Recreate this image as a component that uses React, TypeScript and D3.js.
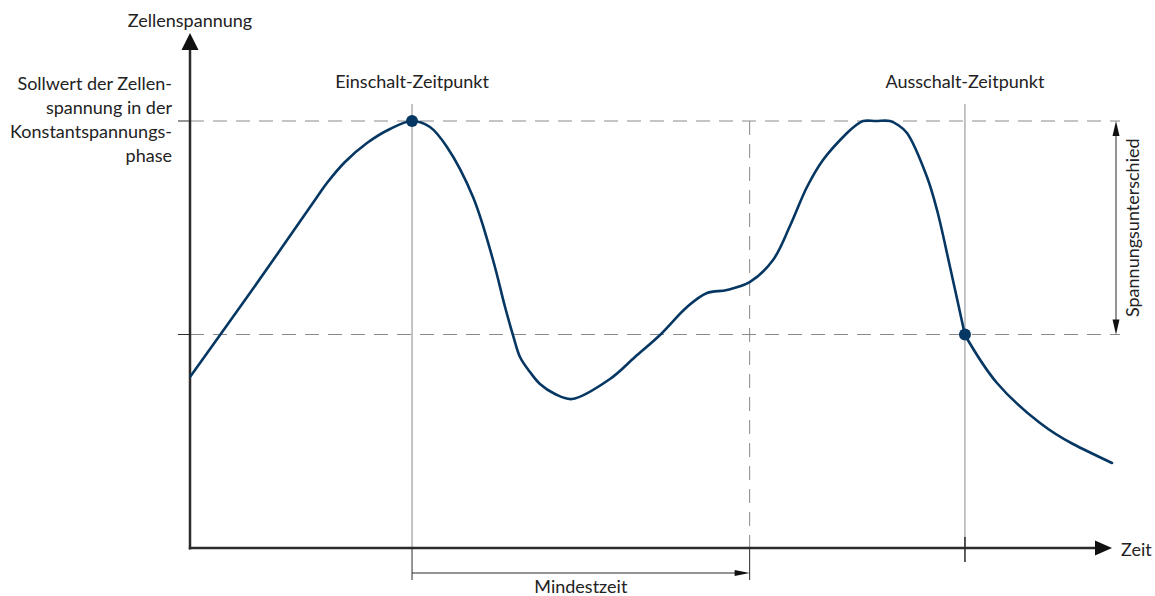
import React from "react";
import * as d3 from "d3";

// Curve samples in abstract units (time 0..100, voltage 0..100; Sollwert = 100)
const timesA = [0, 7.14, 13.96, 15.05, 17.03, 19.45, 21.98, 24.4, 26.37, 28.24, 31.1, 33.3, 34.62, 35.49, 36.26, 37.36, 38.46, 40.11, 41.98, 46.15, 48.9, 51.65, 54.62, 56.81, 59.01, 61.54, 64.07, 65.93, 67.8, 69.56, 72.2, 73.08, 73.96, 75.38, 76.92, 77.8, 78.79, 80.99, 82.09, 83.52, 85.16];
const voltagesA = [40.05, 61.36, 82.2, 85.48, 90.4, 94.85, 98.13, 100, 98.59, 93.91, 82.2, 67.45, 56.44, 49.88, 44.73, 41.22, 38.41, 36.07, 34.89, 39.58, 44.73, 49.88, 56.44, 59.7, 60.42, 62.3, 67.45, 75.4, 84.54, 90.87, 97.19, 98.83, 100, 100, 100, 99.06, 97.19, 86.89, 79.16, 65.81, 49.88];
const timesB = [85.16, 88.68, 93.41, 97.03, 101.32];
const voltagesB = [49.88, 38.64, 29.27, 24.36, 19.91];

const sollwert = 100;
const threshold = 50;
const einschaltT = 24.4;
const mindestEndT = 61.5;
const ausschaltT = 85.16;

const labels = {
  yAxis: "Zellenspannung",
  xAxis: "Zeit",
  sollwert: ["Sollwert der Zellen-", "spannung in der", "Konstantspannungs-", "phase"],
  ein: "Einschalt-Zeitpunkt",
  aus: "Ausschalt-Zeitpunkt",
  mindest: "Mindestzeit",
  diff: "Spannungsunterschied",
};

const W = 1155;
const H = 596;
const FONT = "Lato, 'Noto Sans', sans-serif";
const FS = 18;
const TEXT = "#222";
const CURVE = "#063763";
const GRID = "#8a8a8a";
const AXIS = "#2b2b2b";

export default function App() {
  const x = d3.scaleLinear().domain([0, 100]).range([190, 1100]);
  const y = d3.scaleLinear().domain([0, 100]).range([548, 121]);
  const ptsA: [number, number][] = timesA.map((t, i) => [t, voltagesA[i]]);
  const ptsB: [number, number][] = timesB.map((t, i) => [t, voltagesB[i]]);
  const lineA = d3
    .line<[number, number]>()
    .x((d) => x(d[0]))
    .y((d) => y(d[1]))
    .curve(d3.curveCatmullRom.alpha(0.5));
  const lineB = d3
    .line<[number, number]>()
    .x((d) => x(d[0]))
    .y((d) => y(d[1]))
    .curve(d3.curveNatural);

  const x0 = x(0);
  const y0 = y(0);
  const ySoll = y(sollwert);
  const yThr = y(threshold);
  const xEin = x(einschaltT);
  const xMin = x(mindestEndT);
  const xAus = x(ausschaltT);
  const xEndAxis = 1112;
  const yTopAxis = 33;
  const xBr = 1116;
  const yBr = 573;

  return (
    <svg
      width={W}
      height={H}
      style={{ position: "absolute", left: 0, top: 0, background: "#fff" }}
      fontFamily={FONT}
    >
      {/* dashed reference lines */}
      <line x1={x0} x2={1120} y1={ySoll} y2={ySoll} stroke={GRID} strokeWidth={1} strokeDasharray="14,9" />
      <line x1={x0} x2={1120} y1={yThr} y2={yThr} stroke={GRID} strokeWidth={1} strokeDasharray="14,9" />
      <line x1={xMin} x2={xMin} y1={ySoll} y2={y0} stroke={GRID} strokeWidth={1} strokeDasharray="14,9" />
      {/* solid event lines */}
      <line x1={xEin} x2={xEin} y1={104} y2={y0} stroke={GRID} strokeWidth={1} />
      <line x1={xAus} x2={xAus} y1={104} y2={y0} stroke={GRID} strokeWidth={1} />

      {/* ticks on y axis */}
      <line x1={178} x2={x0} y1={ySoll} y2={ySoll} stroke={AXIS} strokeWidth={1} />
      <line x1={178} x2={x0} y1={yThr} y2={yThr} stroke={AXIS} strokeWidth={1} />

      {/* ticks below x axis */}
      <line x1={xEin} x2={xEin} y1={y0} y2={580} stroke={AXIS} strokeWidth={1} />
      <line x1={xMin} x2={xMin} y1={y0} y2={580} stroke={AXIS} strokeWidth={1} />
      <line x1={xAus} x2={xAus} y1={537} y2={562} stroke={AXIS} strokeWidth={1.5} />

      {/* axes */}
      <line x1={x0} x2={x0} y1={y0 + 1.5} y2={48} stroke={AXIS} strokeWidth={2.5} />
      <line x1={x0 - 1.2} x2={1097} y1={y0} y2={y0} stroke={AXIS} strokeWidth={2.5} />
      <path d={`M${x0},${yTopAxis} L${x0 - 8.5},${50} L${x0 + 8.5},${50} Z`} fill="#111" />
      <path d={`M${xEndAxis},${y0} L${1095},${y0 - 7.5} L${1095},${y0 + 7.5} Z`} fill="#111" />

      {/* Mindestzeit bracket */}
      <line x1={xEin} x2={xMin - 12} y1={yBr} y2={yBr} stroke={AXIS} strokeWidth={1} />
      <path d={`M${xMin},${yBr} L${xMin - 15},${yBr - 3} L${xMin - 15},${yBr + 3} Z`} fill="#111" />
      <text x={(xEin + xMin) / 2} y={593} textAnchor="middle" fontSize={FS} fill={TEXT}>
        {labels.mindest}
      </text>

      {/* Spannungsunterschied bracket */}
      <line x1={xBr} x2={xBr} y1={ySoll + 12} y2={yThr - 12} stroke={AXIS} strokeWidth={1} />
      <path d={`M${xBr},${ySoll} L${xBr - 3.5},${ySoll + 15} L${xBr + 3.5},${ySoll + 15} Z`} fill="#111" />
      <path d={`M${xBr},${yThr} L${xBr - 3.5},${yThr - 15} L${xBr + 3.5},${yThr - 15} Z`} fill="#111" />
      <text
        transform={`translate(1139, ${(ySoll + yThr) / 2}) rotate(-90)`}
        textAnchor="middle"
        fontSize={FS}
        fill={TEXT}
      >
        {labels.diff}
      </text>

      {/* curve */}
      <path d={lineA(ptsA) || ""} fill="none" stroke={CURVE} strokeWidth={2.6} strokeLinejoin="round" />
      <path d={lineB(ptsB) || ""} fill="none" stroke={CURVE} strokeWidth={2.6} strokeLinecap="round" />
      <circle cx={xEin} cy={ySoll} r={6} fill={CURVE} />
      <circle cx={xAus} cy={yThr} r={6} fill={CURVE} />

      {/* labels */}
      <text x={x0} y={27} textAnchor="middle" fontSize={FS} fill={TEXT}>
        {labels.yAxis}
      </text>
      <text x={1121} y={556} fontSize={FS} fill={TEXT}>
        {labels.xAxis}
      </text>
      {labels.sollwert.map((s, i) => (
        <text key={i} x={172} y={90 + i * 24} textAnchor="end" fontSize={FS} fill={TEXT}>
          {s}
        </text>
      ))}
      <text x={xEin} y={88} textAnchor="middle" fontSize={FS} fill={TEXT}>
        {labels.ein}
      </text>
      <text x={xAus} y={88} textAnchor="middle" fontSize={FS} fill={TEXT}>
        {labels.aus}
      </text>
    </svg>
  );
}
